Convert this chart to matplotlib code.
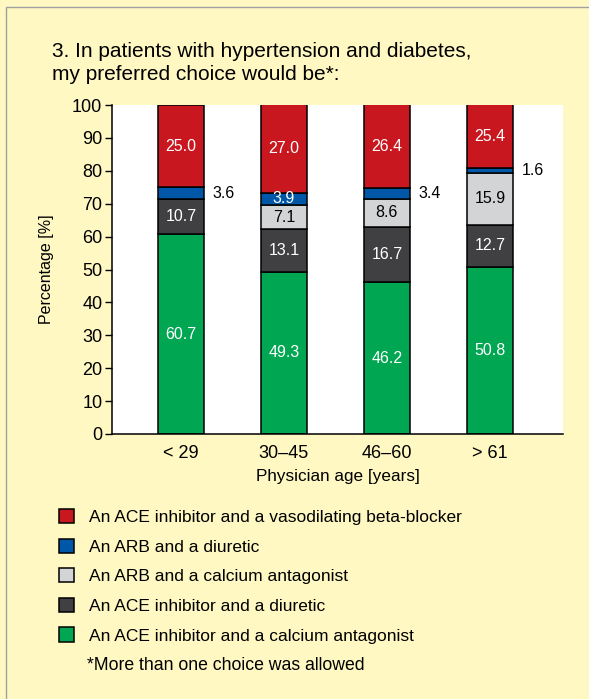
import numpy as np
import matplotlib
matplotlib.use('Agg')
import matplotlib.pyplot as plt
from matplotlib.patches import Rectangle

plt.rcParams['font.family'] = ['Liberation Sans', 'DejaVu Sans']

ages = ['< 29', '30\u201345', '46\u201360', '> 61']
ace_ca = [60.7, 49.3, 46.2, 50.8]
ace_diur = [10.7, 13.1, 16.7, 12.7]
arb_ca = [0.0, 7.1, 8.6, 15.9]
arb_diur = [3.6, 3.9, 3.4, 1.6]
ace_beta = [25.0, 27.0, 26.4, 25.4]

series = [
    ('An ACE inhibitor and a calcium antagonist', ace_ca, '#00A651', 'white'),
    ('An ACE inhibitor and a diuretic', ace_diur, '#404042', 'white'),
    ('An ARB and a calcium antagonist', arb_ca, '#D3D4D6', 'black'),
    ('An ARB and a diuretic', arb_diur, '#0057A8', 'white'),
    ('An ACE inhibitor and a vasodilating beta-blocker', ace_beta, '#C8171F', 'white'),
]
bg = '#FFF8C2'

W, H = 589, 699
fig = plt.figure(figsize=(W / 100, H / 100), dpi=100, facecolor=bg)
# panel border
fig.patches.append(Rectangle((6 / W, -0.1), 1.2, (H - 7) / H + 0.1,
                             transform=fig.transFigure, facecolor='none',
                             edgecolor='#A0A0A0', lw=1.0))

ax = fig.add_axes([112 / W, (H - 434) / H, (563 - 112) / W, (434 - 105) / H])
ax.set_facecolor('white')

x = np.arange(len(ages))
width = 0.45
bottom = np.zeros(len(ages))
handles = []
for name, vals, col, tcol in series:
    vals = np.array(vals)
    bars = ax.bar(x, vals, width, bottom=bottom, color=col, edgecolor='black',
                  linewidth=1.1, label=name)
    handles.append(bars)
    for i, v in enumerate(vals):
        if v <= 0:
            continue
        top = min(bottom[i] + v, 100)
        mid = (bottom[i] + top) / 2
        if name == 'An ARB and a diuretic' and i != 1:
            ax.text(x[i] + width / 2 + 0.08, mid, f'{v:.1f}', ha='left',
                    va='center', fontsize=11.5, color='black')
        else:
            ax.text(x[i], mid, f'{v:.1f}', ha='center', va='center',
                    fontsize=11.5, color=tcol)
    bottom = bottom + vals

ax.set_ylim(0, 100)
ax.set_xlim(-0.67, 3.71)
ax.set_yticks(range(0, 101, 10))
ax.tick_params(axis='y', labelsize=13, length=5, width=1, pad=2)
ax.set_xticks(x)
ax.set_xticklabels(ages)
ax.tick_params(axis='x', labelsize=13, length=0, pad=8)
for s in ['top', 'right']:
    ax.spines[s].set_visible(False)
ax.spines['left'].set_linewidth(1.1)
ax.spines['bottom'].set_linewidth(1.1)
ax.set_ylabel('Percentage [%]', fontsize=11.5, labelpad=13)
ax.set_xlabel('Physician age [years]', fontsize=12.3, labelpad=5)

fig.text(52 / W, 1 - 63 / H, '3. In patients with hypertension and diabetes,\nmy preferred choice would be*:',
         fontsize=15, va='center', ha='left', linespacing=1.25)

fig.legend(handles=handles[::-1], loc='upper left',
           bbox_to_anchor=(52 / W, 1 - 502 / H), frameon=False,
           fontsize=12.5, handlelength=0.88, handleheight=0.88,
           handletextpad=0.85, labelspacing=0.78, borderaxespad=0)
fig.text(87 / W, 1 - 666 / H, '*More than one choice was allowed',
         fontsize=12.7, va='center', ha='left')

fig.savefig('out.png', dpi=100, facecolor=bg)
